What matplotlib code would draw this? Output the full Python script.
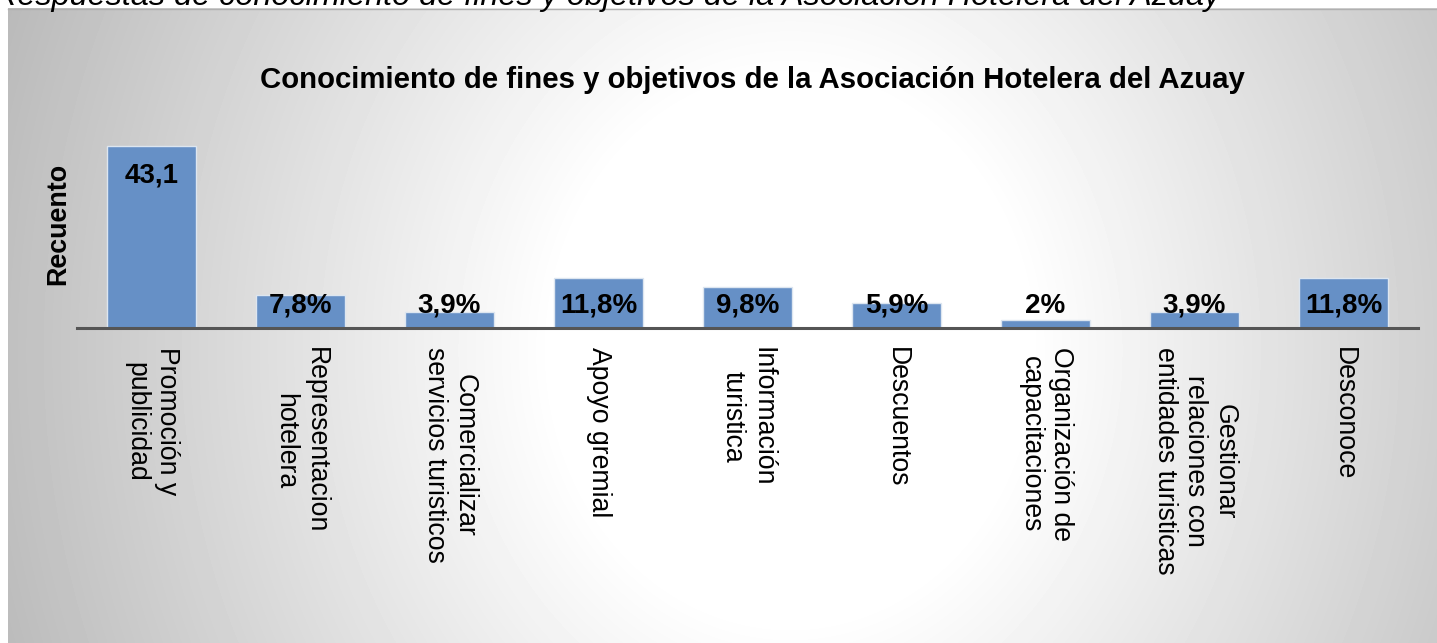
import numpy as np
import matplotlib
matplotlib.use("Agg")
import matplotlib.pyplot as plt

plt.rcParams['font.family'] = ['Liberation Sans', 'DejaVu Sans']

categories = ["Promoción y\npublicidad", "Representacion\nhotelera",
              "Comercializar\nservicios turisticos", "Apoyo gremial",
              "Información\nturistica", "Descuentos", "Organización de\ncapacitaciones",
              "Gestionar\nrelaciones con\nentidades turisticas", "Desconoce"]
values = [43.1, 7.8, 3.9, 11.8, 9.8, 5.9, 2.0, 3.9, 11.8]
labels = ["43,1", "7,8%", "3,9%", "11,8%", "9,8%", "5,9%", "2%", "3,9%", "11,8%"]

W, H = 1437, 643
fig = plt.figure(figsize=(W / 100, H / 100), dpi=100)

# radial grey background panel
bg = fig.add_axes([8 / W, 0, 1 - 8 / W, (H - 8) / H])
yy, xx = np.mgrid[8:H, 8:W]
d = np.sqrt(((xx - 790) / 790.0) ** 2 + ((yy - 350) / 900.0) ** 2)
shade = 1.0 - 0.25 * np.clip((d - 0.3) / 0.7, 0, 1.1)
bg.imshow(shade, cmap="gray", vmin=0, vmax=1, aspect="auto", interpolation="bilinear")
bg.axis("off")
fig.add_artist(plt.Line2D([8 / W, 1], [(H - 8.5) / H] * 2, color="#b0b0b0", lw=1))

# caption cut at the top edge
fig.text(-0.004, (H - 5) / H, "Respuestas de conocimiento de fines y objetivos de la Asociación Hotelera del Azuay",
         fontsize=23.3, style="italic", ha="left", va="baseline")

ax = fig.add_axes([77 / W, (H - 328) / H, (1418 - 77) / W, (328 - 117) / H])
ax.patch.set_alpha(0)
x = np.arange(len(values))
ax.bar(x, values, width=0.6, color="#6690c6", edgecolor="#dde6f0", linewidth=1)
ax.set_xlim(-0.5, len(values) - 0.5)
ax.set_ylim(0, 50)

# labels sit at a fixed height near the axis, first one inside its bar
for i, t in enumerate(labels):
    ypos = 34.4 if i == 0 else 3.6
    ax.text(i, ypos, t, ha="center", va="baseline", fontsize=20, fontweight="bold")

ax.set_xticks(x)
ax.set_xticklabels(categories, rotation=270, fontsize=19.2, multialignment="center")
ax.tick_params(axis="x", length=0, pad=14)
ax.set_yticks([])
for s in ["top", "right", "left"]:
    ax.spines[s].set_visible(False)
ax.spines["bottom"].set_color("#555555")
ax.spines["bottom"].set_linewidth(2.2)

fig.text(58 / W, (H - 224) / H, "Recuento", rotation=90, ha="center", va="center",
         fontsize=19.4, fontweight="bold")
fig.text(752 / W, (H - 80) / H, "Conocimiento de fines y objetivos de la Asociación Hotelera del Azuay",
         ha="center", va="center", fontsize=21.2, fontweight="bold")

fig.savefig("out.png", dpi=100)
